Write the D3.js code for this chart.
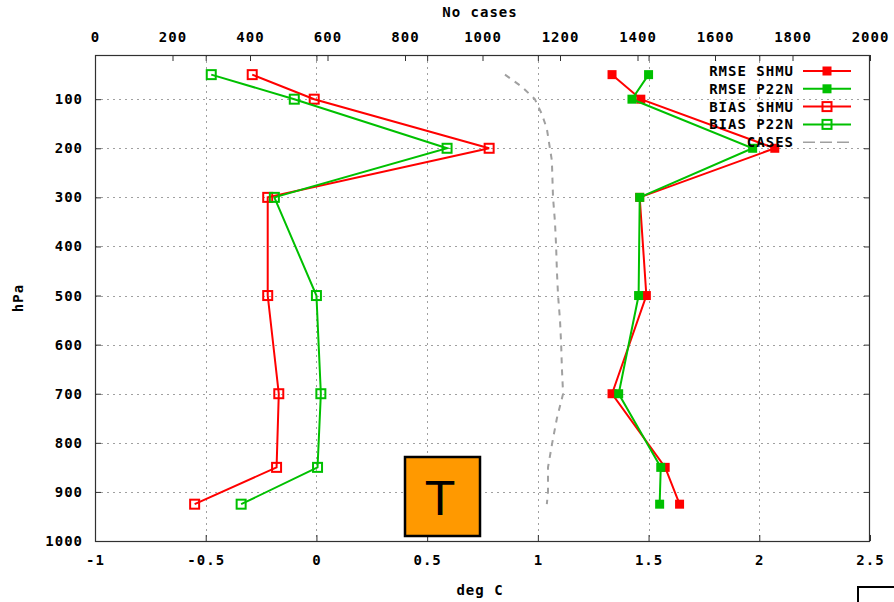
<!DOCTYPE html>
<html>
<head>
<meta charset="utf-8">
<script src="https://cdn.jsdelivr.net/npm/d3@7"></script>
<style>
  html, body { margin: 0; padding: 0; background: #fff; }
  svg { display: block; }
  .lab { font-family: "DejaVu Sans Mono", monospace; font-weight: bold; font-size: 14px; letter-spacing: 1px; fill: #000; }
</style>
</head>
<body>
<svg id="chart" width="894" height="602"></svg>
<script>
// Pressure levels of the verification profiles (hPa)
const levels = [50, 100, 200, 300, 500, 700, 850, 925];

// Temperature scores (deg C) per level
const rmseShmu = [1.335, 1.465, 2.07, 1.46, 1.49, 1.335, 1.575, 1.64];
const rmseP22n = [1.50, 1.425, 1.97, 1.46, 1.455, 1.365, 1.555, 1.55];
const biasShmu = [-0.29, -0.01, 0.78, -0.22, -0.22, -0.17, -0.18, -0.55];
const biasP22n = [-0.475, -0.10, 0.59, -0.19, 0.0, 0.02, 0.005, -0.34];

// Number of cases by pressure (top axis)
const casesLevels = [50, 75, 100, 130, 160, 200, 225, 300, 350, 400, 450, 500, 550, 600, 650, 700, 750, 800, 850, 900, 925];
const casesCount  = [1058, 1102, 1135, 1153, 1166, 1174, 1179, 1182, 1187, 1190, 1192, 1195, 1200, 1203, 1205, 1208, 1192, 1180, 1169, 1169, 1166];

// Axis ticks
const yTicks = [100, 200, 300, 400, 500, 600, 700, 800, 900, 1000];
const xTicks = [-1, -0.5, 0, 0.5, 1, 1.5, 2, 2.5];
const x2Ticks = [0, 200, 400, 600, 800, 1000, 1200, 1400, 1600, 1800, 2000];

const seriesNames = ["RMSE SHMU", "RMSE P22N", "BIAS SHMU", "BIAS P22N", "CASES"];

const RED = "#ff0000", GREEN = "#00c000", GRAY = "#a0a0a0";

const svg = d3.select("#chart");
svg.append("rect").attr("width", 894).attr("height", 602).attr("fill", "#fff");

const L = 95, R = 870, T = 55, B = 541;
const x = d3.scaleLinear().domain([-1, 2.5]).range([L, R]);
const x2 = d3.scaleLinear().domain([0, 2000]).range([L, R]);
const y = d3.scaleLinear().domain([10, 1000]).range([T, B]);

const fmt = v => String(v).replace("\u2212", "-");

// grid
const grid = svg.append("g").attr("stroke", GRAY).attr("stroke-width", 1).attr("stroke-dasharray", "2,4");
yTicks.filter(v => v < 1000).forEach(v => {
  grid.append("line").attr("x1", L).attr("x2", R).attr("y1", Math.round(y(v)) + 0.5).attr("y2", Math.round(y(v)) + 0.5);
});
xTicks.filter(v => v > -1 && v < 2.5).forEach(v => {
  grid.append("line").attr("y1", T).attr("y2", B).attr("x1", Math.round(x(v)) + 0.5).attr("x2", Math.round(x(v)) + 0.5);
});

// cases profile
const casesData = casesLevels.map((p, i) => ({ p, n: casesCount[i] }));
svg.append("path")
  .datum(casesData)
  .attr("fill", "none")
  .attr("stroke", GRAY)
  .attr("stroke-width", 2)
  .attr("stroke-dasharray", "6,6")
  .attr("d", d3.line().x(d => x2(d.n)).y(d => y(d.p)));

// score profiles
const series = [
  { values: rmseShmu, color: RED, filled: true },
  { values: rmseP22n, color: GREEN, filled: true },
  { values: biasShmu, color: RED, filled: false },
  { values: biasP22n, color: GREEN, filled: false }
];
const line = d3.line().x(d => x(d.v)).y(d => y(d.p));

function marker(g, cx, cy, s) {
  if (s.filled) {
    g.append("rect").attr("x", cx - 4.5).attr("y", cy - 4.5).attr("width", 9).attr("height", 9)
      .attr("fill", s.color);
  } else {
    g.append("rect").attr("x", cx - 4.5).attr("y", cy - 4.5).attr("width", 9).attr("height", 9)
      .attr("fill", "none").attr("stroke", s.color).attr("stroke-width", 2);
  }
}

series.forEach(s => {
  const data = levels.map((p, i) => ({ p, v: s.values[i] }));
  svg.append("path").datum(data)
    .attr("fill", "none").attr("stroke", s.color).attr("stroke-width", 2)
    .attr("d", line);
  const g = svg.append("g");
  data.forEach(d => marker(g, x(d.v), y(d.p), s));
});

// axes
const axisColor = "#303030";
function styleAxis(g) {
  g.select(".domain").remove();
  g.selectAll(".tick line").attr("stroke", axisColor);
  g.selectAll("text").attr("class", "lab").attr("font-size", null).attr("font-family", null);
}

svg.append("g").attr("transform", `translate(${L},0)`)
  .call(d3.axisLeft(y).tickValues(yTicks).tickSize(-6).tickPadding(12).tickFormat(fmt))
  .call(styleAxis);
svg.append("g").attr("transform", `translate(${R},0)`)
  .call(d3.axisRight(y).tickValues(yTicks.filter(v => v < 1000)).tickSize(-6).tickFormat(""))
  .call(styleAxis);
svg.append("g").attr("transform", `translate(0,${B})`)
  .call(d3.axisBottom(x).tickValues(xTicks).tickSize(-6).tickPadding(14).tickFormat(d => fmt(d)))
  .call(styleAxis);
svg.append("g").attr("transform", `translate(0,${T})`)
  .call(d3.axisTop(x2).tickValues(x2Ticks).tickSize(-6).tickPadding(13).tickFormat(fmt))
  .call(styleAxis);
svg.append("g").attr("transform", `translate(0,${T})`)
  .call(d3.axisTop(x).tickValues(xTicks.filter(v => v > -1 && v < 2.5)).tickSize(-6).tickFormat(""))
  .call(styleAxis);

// frame
svg.append("rect").attr("x", L + 0.5).attr("y", T + 0.5).attr("width", R - L - 1).attr("height", B - T)
  .attr("fill", "none").attr("stroke", axisColor).attr("stroke-width", 1.2);

// axis titles
svg.append("text").attr("class", "lab").attr("x", 480).attr("y", 17).attr("text-anchor", "middle").text("No cases");
svg.append("text").attr("class", "lab").attr("x", 480).attr("y", 595).attr("text-anchor", "middle").text("deg C");
svg.append("text").attr("class", "lab").attr("text-anchor", "middle")
  .attr("transform", "translate(23,298) rotate(-90)").text("hPa");

// legend
const legend = svg.append("g");
const legendStyles = [
  { color: RED, filled: true }, { color: GREEN, filled: true },
  { color: RED, filled: false }, { color: GREEN, filled: false },
  { color: GRAY, cases: true }
];
seriesNames.forEach((name, i) => {
  const ly = 71 + i * 17.8;
  const st = legendStyles[i];
  legend.append("line").attr("x1", 803).attr("x2", 851).attr("y1", ly).attr("y2", ly)
    .attr("stroke", st.color).attr("stroke-width", st.cases ? 1.5 : 2)
    .attr("stroke-dasharray", st.cases ? "12,5" : null);
  if (!st.cases) marker(legend, 827, ly, st);
  legend.append("text").attr("class", "lab").attr("x", 794).attr("y", ly + 5)
    .attr("text-anchor", "end").text(name);
});

// parameter badge
svg.append("rect").attr("x", 405).attr("y", 457).attr("width", 75).attr("height", 79)
  .attr("fill", "#ff9900").attr("stroke", "#000").attr("stroke-width", 2.5);
svg.append("text").attr("x", 440).attr("y", 515).attr("text-anchor", "middle")
  .attr("font-family", "DejaVu Sans, sans-serif").attr("font-size", 46).attr("fill", "#000").text("T");

// corner box
svg.append("rect").attr("x", 858).attr("y", 587).attr("width", 60).attr("height", 40)
  .attr("fill", "#fff").attr("stroke", "#000").attr("stroke-width", 2);
</script>
</body>
</html>
